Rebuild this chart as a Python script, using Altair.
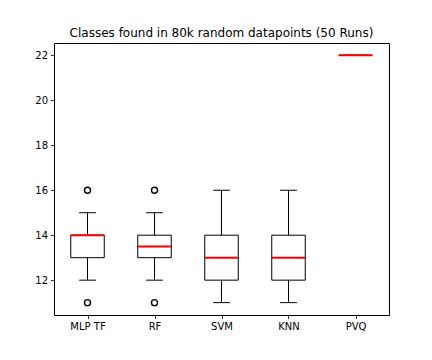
import json
import altair as alt
import pandas as pd

categories = ["MLP TF", "RF", "SVM", "KNN", "PVQ"]
whisker_low = [12, 12, 11, 11, 22]
q1 = [13, 13, 12, 12, 22]
median = [14, 13.5, 13, 13, 22]
q3 = [14, 14, 14, 14, 22]
whisker_high = [15, 15, 16, 16, 22]
outliers = [[11, 16], [11, 16], [], [], []]

rows = []
for i, c in enumerate(categories):
    p = i + 1
    rows.append(dict(cat=c, pos=p, left=p - 0.25, right=p + 0.25,
                     capl=p - 0.125, capr=p + 0.125,
                     lo=whisker_low[i], q1=q1[i], med=median[i],
                     q3=q3[i], hi=whisker_high[i]))
df = pd.DataFrame(rows)
out_rows = [dict(cat=c, pos=i + 1, v=v) for i, c in enumerate(categories) for v in outliers[i]]
dfo = pd.DataFrame(out_rows)

xscale = alt.Scale(domain=[0.5, 5.5], nice=False, zero=False)
yscale = alt.Scale(domain=[10.45, 22.55], nice=False, zero=False)
label_expr = json.dumps(categories) + "[datum.value - 1]"
xaxis = alt.Axis(values=[1, 2, 3, 4, 5], labelExpr=label_expr, title=None)
yaxis = alt.Axis(values=[12, 14, 16, 18, 20, 22], title=None)

base = alt.Chart(df)
X = lambda f, **k: alt.X(f, type="quantitative", scale=xscale, axis=xaxis, **k)
Y = lambda f: alt.Y(f, type="quantitative", scale=yscale, axis=yaxis)

wl = base.mark_rule(color="black", strokeWidth=1).encode(x=X("pos"), y=Y("lo"), y2="q1")
wh = base.mark_rule(color="black", strokeWidth=1).encode(x=X("pos"), y=Y("q3"), y2="hi")
cl = base.mark_rule(color="black", strokeWidth=1).encode(x=X("capl"), x2="capr", y=Y("lo"))
ch = base.mark_rule(color="black", strokeWidth=1).encode(x=X("capl"), x2="capr", y=Y("hi"))
box = base.mark_rect(fill="white", stroke="black", strokeWidth=1).encode(
    x=X("left"), x2="right", y=Y("q1"), y2="q3")
med = base.mark_rule(color="red", strokeWidth=2).encode(x=X("left"), x2="right", y=Y("med"))
pts = alt.Chart(dfo).mark_point(shape="circle", filled=False, color="black",
                                 size=36, strokeWidth=1.4, opacity=1).encode(
    x=X("pos"), y=Y("v"))

chart = alt.layer(wl, wh, cl, ch, box, med, pts).properties(
    width=335, height=272,
    title=alt.Title("Classes found in 80k random datapoints (50 Runs)",
                    fontSize=12, font="DejaVu Sans", fontWeight="normal",
                    color="black", offset=3),
    autosize=alt.AutoSizeParams(type="none"),
    padding={"left": 46, "top": 35, "right": 30, "bottom": 30},
).configure_view(stroke="black", strokeWidth=1).configure_axis(
    grid=False, domain=False, tickColor="black", tickSize=3.5, tickWidth=0.8,
    labelColor="black", labelFontSize=10, labelFont="DejaVu Sans", labelPadding=3,
)

chart.save("out.html", embed_options={"renderer": "svg", "actions": False})
